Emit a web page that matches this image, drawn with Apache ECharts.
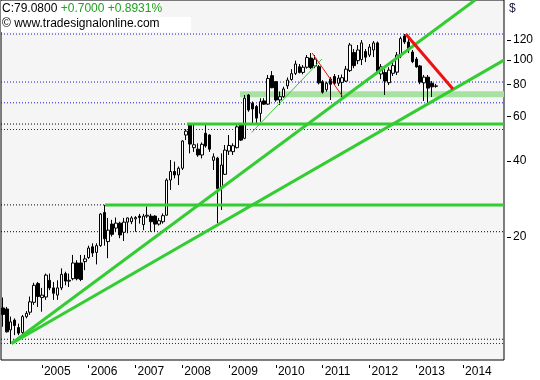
<!DOCTYPE html>
<html><head><meta charset="utf-8">
<script src="https://cdn.jsdelivr.net/npm/echarts@6/dist/echarts.min.js"></script>
<style>html,body{margin:0;padding:0;background:#fff}#c{width:540px;height:380px}</style>
</head><body><div id="c"></div>
<script>
// Monthly bars, first bar = March 2004
const firstYear = 2004, firstMonth = 3;
const opens  = [10.5,10.4,8.6,9.4,8.78,8.4,9.7,10.1,11.05,13.1,11.55,11.6,13.5,12.6,11.8,12.6,14.35,13.4,13.7,15.8,15.8,16.0,16.6,18.3,17.4,18.5,25.0,19.2,22.5,21.7,22.7,20.9,22.9,23.0,23.6,24.2,22.4,24.2,24.2,24.2,22.5,23.0,24.4,33.6,36.3,35.2,37.4,50.6,55.4,45.1,44.5,42.2,51.4,50.6,40.2,41.0,31.1,35.4,43.7,43.5,45.1,55.4,49.1,72.8,67.5,65.5,61.6,69.0,67.0,86.8,82.2,69.6,71.7,79.1,83.8,88.6,94.1,89.4,93.7,101.8,94.7,94.2,82.2,76.4,84.1,86.1,81.0,81.7,82.6,90.9,107.1,99.5,100.5,108.1,104.7,109.6,116.9,88.1,89.3,81.4,88.7,89.6,103.7,124.5,117.9,107.6,100.9,94.8,81.3,85.6,81.0,78.8];
const closes = [9.9,8.45,9.25,8.95,8.35,9.7,10.0,11.1,12.9,11.65,11.8,14.15,12.6,12.0,12.6,14.25,13.4,13.5,15.8,13.7,13.6,16.4,18.1,17.3,18.5,24.65,19.7,21.3,20.5,22.7,20.4,22.9,23.8,23.8,23.9,23.9,24.2,24.4,23.0,22.5,23.2,24.3,33.6,36.3,35.2,37.4,47.9,52.4,46.6,46.3,42.2,46.5,45.8,44.5,41.5,31.1,38.5,44.1,46.0,45.9,54.5,48.3,70.7,63.5,64.1,59.0,68.5,67.0,84.6,77.8,69.6,71.7,76.9,83.4,88.4,96.5,89.4,93.7,102.3,93.3,100.9,81.3,74.7,81.0,80.3,81.0,84.8,85.2,92.1,114.7,95.1,109.6,116.9,102.7,112.6,116.9,89.7,94.0,82.7,91.3,95.1,104.7,121.6,117.9,109.6,98.6,94.0,81.9,85.6,77.5,78.4,79.08];
const lows   = [8.85,8.4,7.6,8.2,8.2,8.25,9.55,9.85,10.8,10.6,10.15,11.3,12.35,11.3,11.3,12.35,12.9,12.7,13.5,13.5,13.4,14.8,16.4,16.7,15.6,18.3,18.5,16.5,20.1,21.0,19.8,19.3,20.7,22.5,21.0,22.6,21.3,23.8,21.0,21.0,22.2,22.6,24.3,30.7,34.1,32.1,36.8,48.3,42.8,43.4,41.5,40.9,45.1,43.4,36.8,22.7,25.6,35.2,42.2,42.2,44.8,47.9,48.7,62.5,56.3,56.3,57.1,66.5,66.5,77.4,68.5,66.5,71.0,76.9,82.9,87.3,88.6,87.9,92.5,92.1,92.9,80.2,73.7,75.0,69.6,79.7,79.0,71.3,81.9,89.7,92.9,96.4,95.6,98.2,102.8,102.8,88.1,84.1,72.8,79.7,86.5,87.3,101.8,115.8,106.6,97.3,93.3,80.3,68.9,67.5,71.5,77.8];
const highs  = [11.55,10.6,9.7,9.55,9.1,9.85,10.2,11.65,13.2,13.3,12.6,14.35,14.35,13.3,13.5,15.05,14.6,14.35,17.0,16.2,17.0,17.0,18.5,18.9,18.9,24.85,26.8,23.8,23.4,23.9,23.0,23.8,23.9,24.2,24.2,24.7,24.7,26.4,24.7,24.4,23.8,24.8,34.1,40.3,39.7,38.0,48.3,53.4,55.9,55.4,46.9,47.3,55.9,50.9,42.8,41.5,42.8,46.2,50.6,46.9,55.4,55.9,72.8,73.3,68.6,66.5,70.7,70.7,87.3,90.5,82.6,75.1,78.5,85.4,92.1,99.5,96.5,95.6,104.7,106.6,104.7,95.6,83.4,82.2,85.6,88.1,87.3,87.7,94.8,116.9,110.6,114.7,120.0,110.6,115.7,118.9,118.4,96.5,92.1,93.7,98.2,107.6,123.8,126.7,122.2,109.6,102.8,95.6,87.3,87.3,82.6,80.6];

const yearLabels = ['2005','2006','2007','2008','2009','2010','2011','2012','2013','2014'];
const priceTicks = [20, 40, 60, 80, 100, 120];

// trend lines: [monthIndex, price]
const steepTrend   = [[2.2, 7.6], [121.1, 172.7]];
const shallowTrend = [[2.2, 7.6], [128.5, 100]];
const thinGreen    = [[63.8, 51.8], [81.8, 100.9]];
const thinRed      = [[79.3, 106.6], [87.0, 72.2]];
const thickRed     = [[103.3, 126.7], [115.4, 76.9]];
// horizontal supports: [startIndex, price]
const greenLevels  = [[26.2, 26.8], [47.2, 55.9]];
const zoneStart = 60.8, zoneRange = [71.3, 75.3];
const blueDotLevels  = [126.7, 81.9, 67.8, 53.2, 7.6];
const blackDotLevels = [21.0, 7.9];

const X_MIN = -0.5, X_MAX = 128.5;
const candleData = opens.map((o, i) => [i, o, closes[i], lows[i], highs[i]]);
const yearIdx = yearLabels.map(y => (Number(y) - firstYear) * 12 - (firstMonth - 1));
const idxToYear = {}; yearIdx.forEach((v, k) => idxToYear[v] = yearLabels[k]);

const GREEN = '#33cc33', RED = '#ee1111';
const series = [{
  type: 'candlestick', data: candleData, encode: {x: 0, y: [1, 2, 3, 4]},
  barWidth: 3, z: 3,
  itemStyle: {color: '#ffffff', color0: '#000000', borderColor: '#000000', borderColor0: '#000000', borderWidth: 1}
}];
function seg(data, color, width, type, z) {
  series.push({type: 'line', data, symbol: 'none', silent: true, z: z || 4,
    lineStyle: {color, width, type: type || 'solid'}});
}
blueDotLevels.forEach(v => seg([[X_MIN, v], [X_MAX, v]], '#1a1ad0', 1, [1, 2], 1));
blackDotLevels.forEach(v => seg([[X_MIN, v], [X_MAX, v]], '#000000', 1, [1, 2], 1));
greenLevels.forEach(([s, v]) => { seg([[X_MIN, v], [s, v]], '#000000', 1, [1, 2], 1); seg([[s, v], [X_MAX, v]], GREEN, 3); });
const zoneMid = Math.sqrt(zoneRange[0] * zoneRange[1]);
seg([[zoneStart, zoneMid], [X_MAX, zoneMid]], '#a8e2a2', 6, 'solid', 2);
seg(steepTrend, GREEN, 3);
seg(shallowTrend, GREEN, 3);
seg(thinGreen, GREEN, 1);
seg(thinRed, RED, 1);
seg(thickRed, RED, 3);

const chart = echarts.init(document.getElementById('c'));
chart.setOption({
  animation: false,
  backgroundColor: '#ffffff',
  grid: {left: 1, right: 36, top: 0, bottom: 20, show: true, backgroundColor: '#f5f5f5', borderColor: '#000', borderWidth: 1},
  xAxis: {
    type: 'value', min: X_MIN, max: X_MAX, offset: 5,
    axisLine: {show: false, onZero: false}, splitLine: {show: false},
    axisTick: {show: true, length: 3, customValues: yearIdx, lineStyle: {color: '#000'}},
    axisLabel: {customValues: yearIdx, formatter: v => idxToYear[v] || '', align: 'left', margin: 1,
      padding: [0, 0, 0, 2], color: '#000', fontSize: 12, fontFamily: 'Liberation Sans'}
  },
  yAxis: {
    type: 'log', logBase: 10, min: 6.54, max: 172.7, position: 'right', offset: 3,
    axisLine: {show: false, onZero: false}, splitLine: {show: false},
    axisTick: {show: true, length: 4, customValues: priceTicks, lineStyle: {color: '#000'}},
    axisLabel: {customValues: priceTicks, margin: 6, color: '#000', fontSize: 12, fontFamily: 'Liberation Sans'}
  },
  series,
  graphic: [
    {type: 'rect', shape: {x: 1, y: 1, width: 158, height: 16}, style: {fill: '#ffffff'}, z: 100},
    {type: 'rect', shape: {x: 1, y: 17, width: 190, height: 15}, style: {fill: '#ffffff'}, z: 100},
    {type: 'text', x: 2, y: 3, z: 101, style: {text: '{a|C:79.0800} {b|+0.7000 +0.8931%}', font: '12px "Liberation Sans"',
      rich: {a: {fill: '#000', font: '12px "Liberation Sans"'}, b: {fill: '#1fa31f', font: '12px "Liberation Sans"'}}}},
    {type: 'text', x: 2, y: 18, z: 101, style: {text: '\u00a9 www.tradesignalonline.com', font: '12px "Liberation Sans"', fill: '#000'}},
    {type: 'text', x: 509, y: 3, z: 101, style: {text: '$', font: '12px "Liberation Sans"', fill: '#1a1a40'}}
  ]
});
</script></body></html>
